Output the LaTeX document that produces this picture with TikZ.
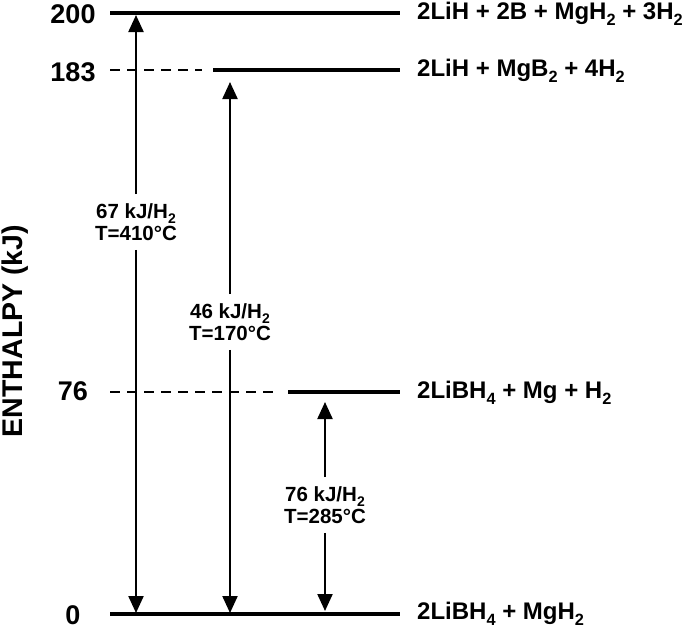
\documentclass[tikz,border=0pt]{standalone}
\usepackage{fontspec}
\setmainfont{Liberation Sans}
\usetikzlibrary{arrows.meta}
\newcommand\sbs[1]{\raisebox{-0.24em}{\scalebox{0.68}{#1}}}
\begin{document}
\begin{tikzpicture}[x=1pt,y=-1pt,
  level/.style={line width=4pt},
  guide/.style={line width=1.9pt, dash pattern=on 10pt off 7pt},
  arr/.style={line width=2.2pt,-{Triangle[length=17pt,width=15pt]}},
  num/.style={font=\fontsize{27}{30}\selectfont\bfseries, inner sep=0pt},
  spec/.style={anchor=west, font=\fontsize{24}{30}\selectfont\bfseries, inner sep=0pt},
  lab/.style={align=center, font=\fontsize{20.5}{22.5}\selectfont\bfseries, inner xsep=0pt, inner ysep=9pt}]
\useasboundingbox (0,0) rectangle (692,629);
% axis label
\node[rotate=90, font=\fontsize{28.5}{30}\selectfont\bfseries, inner sep=0pt] (axis) at (15,331) {ENTHALPY (kJ)};
% numbers
\node[num] (n200) at (73,14) {200};
\node[num] (n183) at (73,72) {183};
\node[num] (n76) at (73,391) {76};
\node[num] (n0) at (73,615) {0};
% level coordinates
\coordinate (a200) at (110,13);  \coordinate (b200) at (400,13);
\coordinate (d183) at (110,70);  \coordinate (e183) at (202,70);
\coordinate (a183) at (213,70);  \coordinate (b183) at (400,70);
\coordinate (d76) at (110,392);  \coordinate (e76) at (280,392);
\coordinate (a76) at (288,392);  \coordinate (b76) at (400,392);
\coordinate (a0) at (110,614);   \coordinate (b0) at (400,614);
\draw[level] (a200) -- (b200);
\draw[guide] (d183) -- (e183);
\draw[level] (a183) -- (b183);
\draw[guide] (d76) -- (e76);
\draw[level] (a76) -- (b76);
\draw[level] (a0) -- (b0);
% species
\node[spec] (s200) at (417,14) {2LiH + 2B + MgH\sbs{2} + 3H\sbs{2}};
\node[spec] (s183) at (417,71) {2LiH + MgB\sbs{2} + 4H\sbs{2}};
\node[spec] (s76) at (417,393) {2LiBH\sbs{4} + Mg + H\sbs{2}};
\node[spec] (s0) at (417,614) {2LiBH\sbs{4} + MgH\sbs{2}};
% arrows
\node[lab] (l1) at (136,222) {67 kJ/H\sbs{2}\\T=410°C};
\coordinate (t1) at (136,15); \coordinate (u1) at (136,613);
\draw[arr] (l1) -- (t1);
\draw[arr] (l1) -- (u1);
\node[lab] (l2) at (230,322) {46 kJ/H\sbs{2}\\T=170°C};
\coordinate (t2) at (230,82); \coordinate (u2) at (230,613);
\draw[arr] (l2) -- (t2);
\draw[arr] (l2) -- (u2);
\node[lab] (l3) at (325,505) {76 kJ/H\sbs{2}\\T=285°C};
\coordinate (t3) at (325,402); \coordinate (u3) at (325,611);
\draw[arr] (l3) -- (t3);
\draw[arr] (l3) -- (u3);
\end{tikzpicture}
\end{document}
